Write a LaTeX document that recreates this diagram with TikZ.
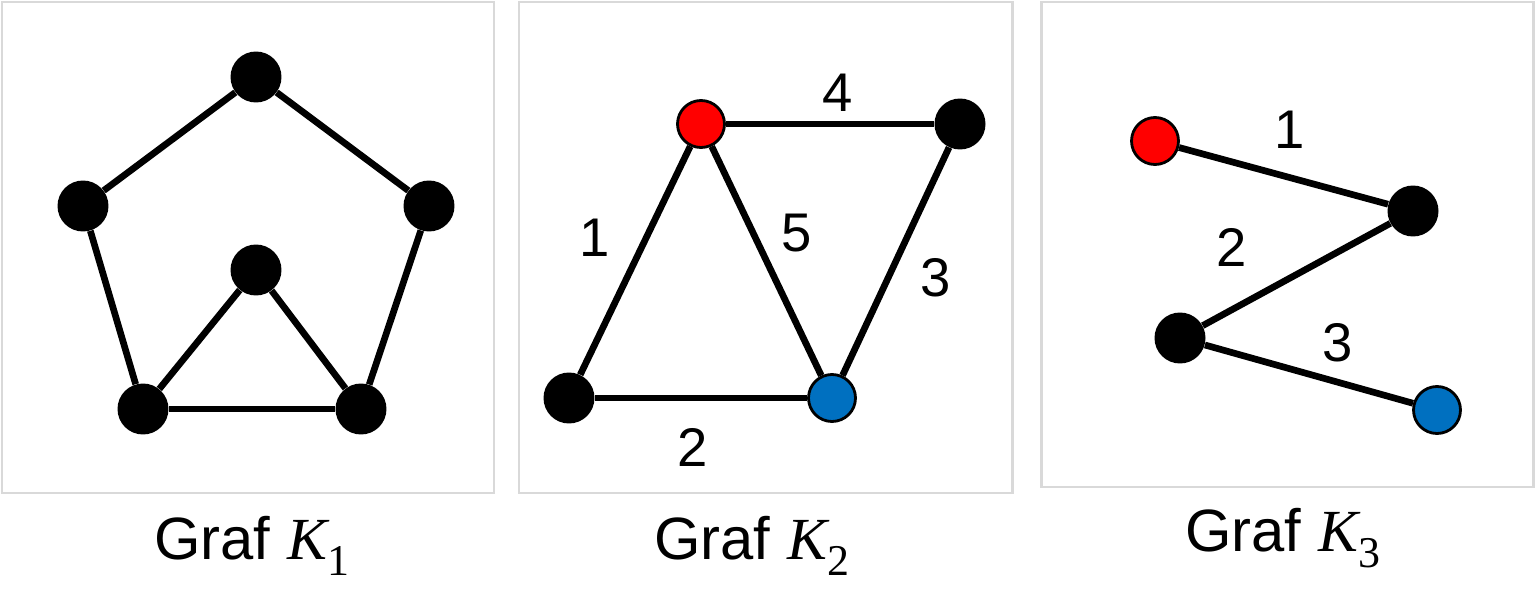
\documentclass[tikz,border=0pt]{standalone}
\usepackage{fontspec}
\setmainfont{Liberation Sans}
\newfontfamily\kfont{Liberation Serif}
\definecolor{boxgray}{HTML}{D9D9D9}
\definecolor{nodered}{HTML}{FF0000}
\definecolor{nodeblue}{HTML}{0070C0}
\newcommand{\Kname}[1]{{\kfont\itshape K}\kern0.5pt\raisebox{-0.28em}{\kfont\fontsize{25}{28}\selectfont #1}}
\begin{document}
\begin{tikzpicture}[x=0.02cm,y=-0.02cm,
  vtx/.style={circle,fill=black,minimum size=1.02cm,inner sep=0pt},
  cvtx/.style={circle,draw=black,line width=1.6pt,minimum size=0.94cm,inner sep=0pt},
  redv/.style={cvtx,fill=nodered},
  bluev/.style={cvtx,fill=nodeblue},
  edge/.style={line width=3.8pt,black},
  frame/.style={draw=boxgray,line width=1.7pt},
  elabel/.style={font=\fontsize{31}{36}\selectfont},
  caption/.style={font=\fontsize{34}{40}\selectfont}]
\useasboundingbox (0,0) rectangle (1536,612);
% frames
\node[frame,minimum width=492*0.02cm,minimum height=491*0.02cm,inner sep=0pt] (f1) at (248,247.5) {};
\node[frame,minimum width=493*0.02cm,minimum height=491*0.02cm,inner sep=0pt] (f2) at (765.5,247.5) {};
\node[frame,minimum width=492*0.02cm,minimum height=485*0.02cm,inner sep=0pt] (f3) at (1287,244.5) {};
% K1
\node[vtx] (a1) at (256,77) {};
\node[vtx] (a2) at (83,206) {};
\node[vtx] (a3) at (429,206) {};
\node[vtx] (a4) at (256,270) {};
\node[vtx] (a5) at (143,409) {};
\node[vtx] (a6) at (361,409) {};
\draw[edge] (a1) -- (a2);
\draw[edge] (a1) -- (a3);
\draw[edge] (a2) -- (a5);
\draw[edge] (a3) -- (a6);
\draw[edge] (a4) -- (a5);
\draw[edge] (a4) -- (a6);
\draw[edge] (a5) -- (a6);
% K2
\node[redv] (b1) at (701,124) {};
\node[vtx] (b2) at (960,124) {};
\node[vtx] (b3) at (569,398) {};
\node[bluev] (b4) at (832,398) {};
\draw[edge] (b1) -- (b2);
\draw[edge] (b1) -- (b3);
\draw[edge] (b1) -- (b4);
\draw[edge] (b2) -- (b4);
\draw[edge] (b3) -- (b4);
\node[elabel] (l4) at (838,93) {4};
\node[elabel] (l1) at (595,238) {1};
\node[elabel] (l5) at (797,233) {5};
\node[elabel] (l3) at (936,278) {3};
\node[elabel] (l2) at (693,447) {2};
% K3
\node[redv] (c1) at (1155,141) {};
\node[vtx] (c2) at (1413,211) {};
\node[vtx] (c3) at (1180,338) {};
\node[bluev] (c4) at (1437,410) {};
\draw[edge] (c1) -- (c2);
\draw[edge] (c2) -- (c3);
\draw[edge] (c3) -- (c4);
\node[elabel] (m1) at (1290,130) {1};
\node[elabel] (m2) at (1232,247) {2};
\node[elabel] (m3) at (1338,343) {3};
% captions
\node[caption] (t1) at (252,546) {Graf \Kname{1}};
\node[caption] (t2) at (752,546) {Graf \Kname{2}};
\node[caption] (t3) at (1283,538) {Graf \Kname{3}};
\end{tikzpicture}
\end{document}
